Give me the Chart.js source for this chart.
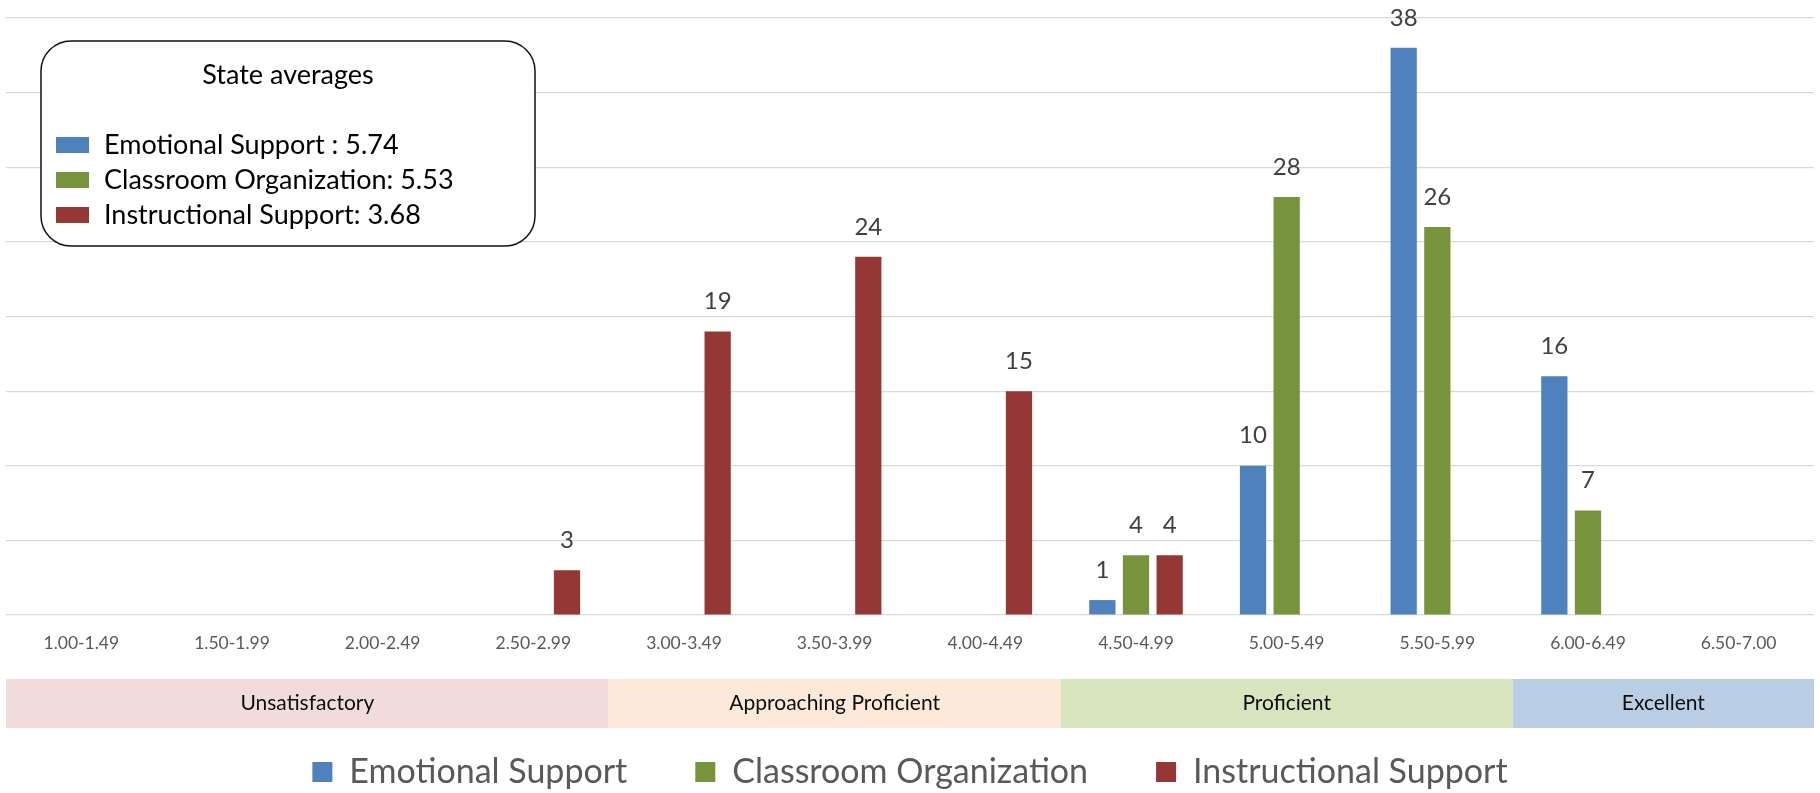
<!DOCTYPE html>
<html>
<head>
<meta charset="utf-8">
<title>CLASS domain score distribution</title>
<script src="https://cdn.jsdelivr.net/npm/chart.js@4.4.1/dist/chart.umd.min.js"></script>
<style>
  html, body { margin: 0; padding: 0; background: #ffffff; }
  #wrap { width: 1820px; height: 793px; position: relative; }
</style>
</head>
<body>
<div id="wrap"><canvas id="chart"></canvas></div>
<script>
// Score ranges (x categories)
const categories = ['1.00-1.49', '1.50-1.99', '2.00-2.49', '2.50-2.99', '3.00-3.49', '3.50-3.99',
                    '4.00-4.49', '4.50-4.99', '5.00-5.49', '5.50-5.99', '6.00-6.49', '6.50-7.00'];

// Series names and counts per score range
const seriesNames = ['Emotional Support', 'Classroom Organization', 'Instructional Support'];
const emotionalSupport      = [null, null, null, null, null, null, null, 1, 10, 38, 16, null];
const classroomOrganization = [null, null, null, null, null, null, null, 4, 28, 26, 7, null];
const instructionalSupport  = [null, null, null, 3, 19, 24, 15, 4, null, null, null, null];

// Value axis
const yMax = 40;
const yStep = 5;

// State averages box
const stateAveragesTitle = 'State averages';
const stateAverageNames = ['Emotional Support : ', 'Classroom Organization: ', 'Instructional Support: '];
const stateAverages = ['5.74', '5.53', '3.68'];

// Performance bands under the axis (first / last score range covered)
const bandNames = ['Unsatisfactory', 'Approaching Proficient', 'Proficient', 'Excellent'];
const bandFirstCategory = [0, 4, 7, 10];
const bandLastCategory = [3, 6, 9, 11];

const seriesColors = ['#4F81BD', '#77933C', '#953735'];
const bandColors = ['#F2DCDB', '#FDE9D9', '#D7E4BD', '#B9CDE5'];
const FONT = 'Lato, "Open Sans", sans-serif';

// Numbers above each bar
const valueLabels = {
  id: 'valueLabels',
  afterDatasetsDraw(chart) {
    const ctx = chart.ctx;
    ctx.save();
    ctx.font = '24px ' + FONT;
    ctx.fillStyle = '#404040';
    ctx.textAlign = 'center';
    ctx.textBaseline = 'middle';
    chart.data.datasets.forEach((ds, di) => {
      const meta = chart.getDatasetMeta(di);
      meta.data.forEach((bar, i) => {
        const v = ds.data[i];
        if (v === null || v === undefined) return;
        ctx.fillText(String(v), bar.x, bar.y - 30);
      });
    });
    ctx.restore();
  }
};

// Performance band strip and the state averages box
const overlays = {
  id: 'overlays',
  afterDraw(chart) {
    const ctx = chart.ctx;
    const area = chart.chartArea;
    const x = chart.scales.x;
    ctx.save();

    // band strip
    const bandTop = area.bottom + 64;
    const bandH = 49;
    bandNames.forEach((name, i) => {
      const left = x.getPixelForValue(bandFirstCategory[i] - 0.5);
      const right = x.getPixelForValue(bandLastCategory[i] + 0.5);
      ctx.fillStyle = bandColors[i];
      ctx.fillRect(left, bandTop, right - left, bandH);
      ctx.fillStyle = '#0d0d0d';
      ctx.font = '21px ' + FONT;
      ctx.textAlign = 'center';
      ctx.textBaseline = 'middle';
      ctx.fillText(name, (left + right) / 2, bandTop + bandH / 2);
    });

    // state averages box
    const bx = area.left + 35, by = area.top + 23, bw = 494, bh = 205, r = 30;
    ctx.beginPath();
    ctx.roundRect(bx, by, bw, bh, r);
    ctx.fillStyle = '#ffffff';
    ctx.fill();
    ctx.lineWidth = 1.5;
    ctx.strokeStyle = '#111111';
    ctx.stroke();

    ctx.fillStyle = '#000000';
    ctx.font = '27px ' + FONT;
    ctx.textAlign = 'center';
    ctx.textBaseline = 'middle';
    ctx.fillText(stateAveragesTitle, bx + bw / 2, by + 34);

    ctx.textAlign = 'left';
    stateAverageNames.forEach((name, i) => {
      const cy = by + 104 + i * 35;
      ctx.fillStyle = seriesColors[i];
      ctx.fillRect(bx + 15, cy - 8, 33, 16);
      ctx.fillStyle = '#000000';
      ctx.fillText(name + stateAverages[i], bx + 63, cy);
    });
    ctx.restore();
  }
};

const seriesData = [emotionalSupport, classroomOrganization, instructionalSupport];

new Chart(document.getElementById('chart'), {
  type: 'bar',
  data: {
    labels: categories,
    datasets: seriesNames.map((name, i) => ({
      label: name,
      data: seriesData[i],
      backgroundColor: seriesColors[i],
      borderWidth: 0,
      categoryPercentage: 0.67,
      barPercentage: 0.78
    }))
  },
  options: {
    responsive: true,
    maintainAspectRatio: false,
    devicePixelRatio: 1,
    animation: false,
    layout: { padding: { top: 18, left: 6, right: 6, bottom: -6 } },
    plugins: {
      tooltip: { enabled: false },
      legend: {
        position: 'bottom',
        labels: {
          boxWidth: 20,
          boxHeight: 20,
          padding: 68,
          color: '#595959',
          font: { family: FONT, size: 34 }
        }
      }
    },
    scales: {
      x: {
        grid: { display: false, drawTicks: false },
        border: { display: false },
        ticks: {
          color: '#595959',
          font: { family: FONT, size: 17.5 },
          padding: 18,
          maxRotation: 0,
          autoSkip: false
        },
        afterFit(scale) { scale.height = 72; }
      },
      y: {
        min: 0,
        max: yMax,
        grid: { color: '#D9D9D9', lineWidth: 1.2, drawTicks: false },
        border: { display: false },
        ticks: { display: false, stepSize: yStep }
      }
    }
  },
  plugins: [valueLabels, overlays]
});
</script>
</body>
</html>
